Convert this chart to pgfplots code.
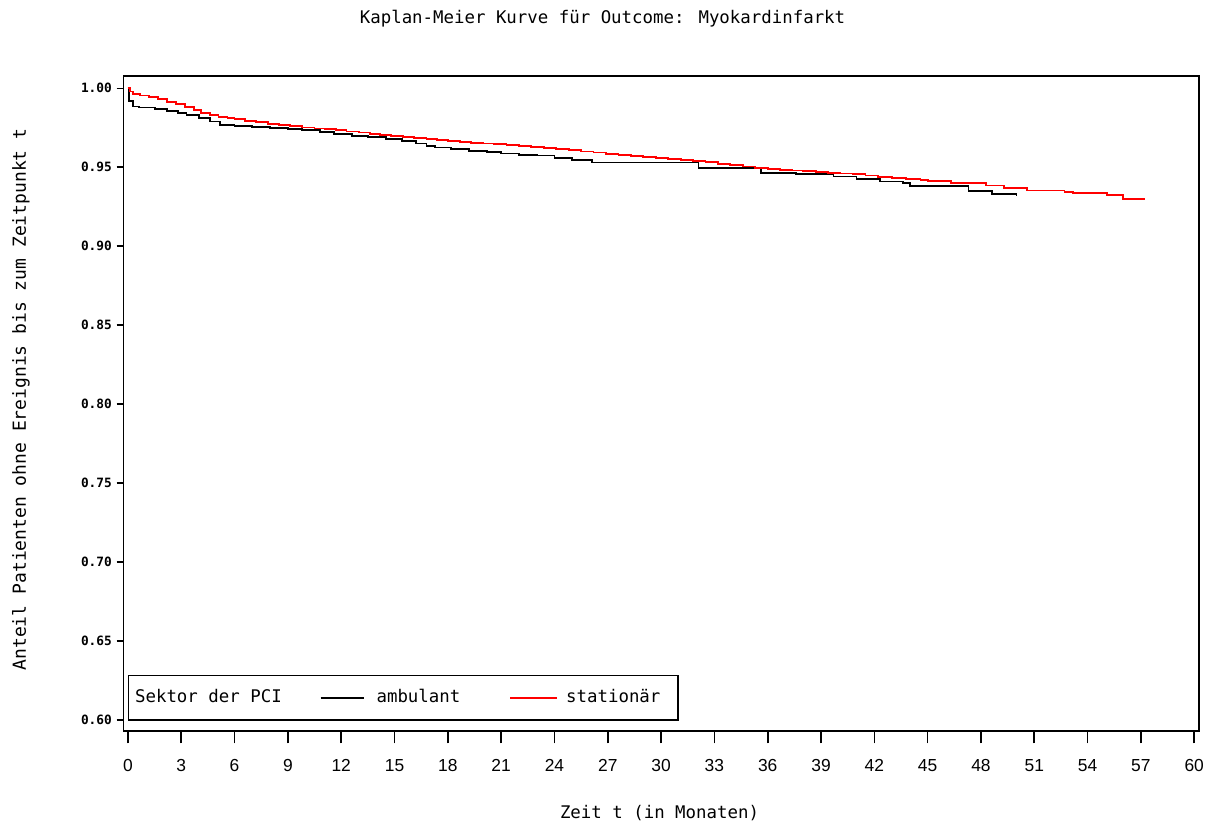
\documentclass[border=0pt]{standalone}
\usepackage{pgfplots}
\pgfplotsset{compat=1.18}
\usepackage{fontspec}
\setmainfont{DejaVu Sans Mono}
\newfontfamily\ticksans{Liberation Sans}

% Kaplan-Meier estimates (time in months, survival probability)
\pgfplotstableread{
t S
0.00 1.0000
0.10 0.9980
0.30 0.9966
0.70 0.9955
1.20 0.9944
1.70 0.9930
2.20 0.9915
2.70 0.9900
3.20 0.9884
3.70 0.9862
4.10 0.9845
4.60 0.9830
5.10 0.9820
5.60 0.9812
6.00 0.9805
6.60 0.9795
7.20 0.9785
7.90 0.9776
8.50 0.9768
9.10 0.9760
9.80 0.9752
10.50 0.9745
11.10 0.9740
11.70 0.9734
12.30 0.9727
13.00 0.9720
13.60 0.9712
14.20 0.9705
14.80 0.9698
15.50 0.9692
16.10 0.9686
16.80 0.9680
17.40 0.9674
18.00 0.9668
18.70 0.9662
19.30 0.9656
20.00 0.9650
20.60 0.9645
21.30 0.9639
22.00 0.9633
22.70 0.9626
23.40 0.9620
24.10 0.9614
24.80 0.9607
25.50 0.9600
26.20 0.9593
26.90 0.9586
27.60 0.9579
28.30 0.9572
29.00 0.9566
29.70 0.9560
30.40 0.9554
31.10 0.9547
31.80 0.9540
32.50 0.9532
33.20 0.9523
33.90 0.9514
34.60 0.9505
35.30 0.9497
36.00 0.9491
36.70 0.9485
37.40 0.9480
38.00 0.9476
38.70 0.9470
39.40 0.9464
40.10 0.9460
40.80 0.9455
41.50 0.9448
42.20 0.9440
43.00 0.9434
43.80 0.9427
44.60 0.9420
45.00 0.9413
46.30 0.9400
48.30 0.9385
49.30 0.9370
50.60 0.9353
52.70 0.9343
53.20 0.9336
55.10 0.9322
56.00 0.9300
57.20 0.9294
}\stationaer

\pgfplotstableread{
t S
0.00 1.0000
0.05 0.9920
0.30 0.9885
0.60 0.9878
1.50 0.9870
2.20 0.9858
2.80 0.9845
3.30 0.9830
4.00 0.9810
4.60 0.9790
5.20 0.9770
6.00 0.9760
7.00 0.9755
8.00 0.9748
9.00 0.9740
9.80 0.9734
10.80 0.9725
11.60 0.9710
12.60 0.9700
13.50 0.9690
14.50 0.9680
15.40 0.9668
16.20 0.9650
16.80 0.9635
17.30 0.9625
18.20 0.9615
19.20 0.9605
20.20 0.9596
21.00 0.9587
22.00 0.9580
23.00 0.9575
24.00 0.9560
25.00 0.9545
26.10 0.9530
32.10 0.9493
35.60 0.9462
37.60 0.9455
39.70 0.9442
41.00 0.9428
42.30 0.9410
43.60 0.9400
44.00 0.9382
47.30 0.9352
48.60 0.9330
50.00 0.9318
}\ambulant

\pgfplotsset{
  short line legend/.style={legend image code/.code={\draw[##1] (0pt,0pt) -- (21.5pt,0pt);}},
  long line legend/.style={legend image code/.code={\draw[##1] (0pt,0pt) -- (23.5pt,0pt);}},
}

\begin{document}
\begin{tikzpicture}
\useasboundingbox (-61.75pt,-46.15pt) rectangle (544.75pt,365.35pt);
\begin{axis}[
  at={(0,0)}, anchor=south west,
  scale only axis,
  width=537.75pt, height=327.35pt,
  xmin=-0.25, xmax=60.27,
  ymin=0.5932, ymax=1.0078,
  axis line style={line width=0.9pt},
  axis x line*=box, axis y line*=box,
  xtick={0,3,...,60},
  ytick={0.60,0.65,0.70,0.75,0.80,0.85,0.90,0.95,1.00},
  xtick pos=bottom, ytick pos=left,
  tick align=outside,
  major tick length=6.3pt,
  ytick style={/pgfplots/major tick length=3.5pt},
  tick style={line width=0.8pt, black},
  /pgf/number format/assume math mode=true,
  yticklabel style={font=\fontsize{6.4}{7}\selectfont\bfseries, xshift=4pt,
    /pgf/number format/.cd, fixed, fixed zerofill, precision=2},
  xticklabel style={font=\ticksans\fontsize{8.7}{10}\selectfont, yshift=-4.5pt},
  title={Kaplan-Meier Kurve für Outcome: Myokardinfarkt},
  title style={font=\fontsize{8.7}{10}\selectfont,
    at={(axis description cs:0.4454,1.0881)}, anchor=center, yshift=-6pt},
  xlabel={Zeit t (in Monaten)},
  xlabel style={font=\fontsize{8.7}{10}\selectfont,
    at={(axis description cs:0.4984,-0.1262)}, anchor=center},
  ylabel={Anteil Patienten ohne Ereignis bis zum Zeitpunkt t},
  ylabel style={font=\fontsize{9}{10}\selectfont,
    at={(axis description cs:-0.0953,0.506)}, anchor=center},
  every axis plot/.append style={line width=0.9pt},
  legend columns=-1,
  legend style={
    font=\fontsize{8.7}{10}\selectfont,
    draw=black, line width=0.8pt,
    at={(axis description cs:0.0039,0.0153)}, anchor=south west,
    inner xsep=1.3pt, inner ysep=5pt,
    /tikz/column 1/.style={column sep=0pt},
    /tikz/column 2/.style={column sep=17pt},
    /tikz/column 3/.style={column sep=4pt},
    /tikz/column 4/.style={column sep=22.5pt},
    /tikz/column 5/.style={column sep=2pt},
  },
]
\addlegendimage{empty legend}
\addlegendentry{Sektor der PCI}
\addplot[const plot, black, short line legend] table[x=t, y=S] {\ambulant};
\addlegendentry{ambulant}
\addplot[const plot, red, long line legend] table[x=t, y=S] {\stationaer};
\addlegendentry{stationär\rule{5.5pt}{0pt}}
\end{axis}
\end{tikzpicture}
\end{document}
